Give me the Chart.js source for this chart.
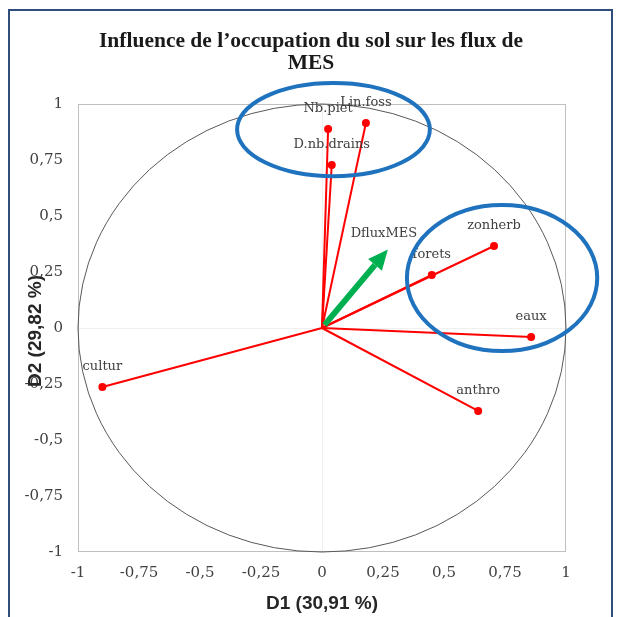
<!DOCTYPE html>
<html>
<head>
<meta charset="utf-8">
<script src="https://cdn.jsdelivr.net/npm/chart.js@4"></script>
<style>
  body { margin: 0; background: #fff; }
  #wrap { width: 617px; height: 617px; position: relative; }
</style>
</head>
<body>
<div id="wrap"><canvas id="pca"></canvas></div>
<script>
// active variables (correlation circle, D1 x D2)
const varNames = ['Nb.piet', 'Lin.foss', 'D.nb.drains', 'zonherb', 'forets', 'eaux', 'anthro', 'cultur'];
const d1Values = [0.025, 0.18, 0.04, 0.705, 0.45, 0.857, 0.64, -0.90];
const d2Values = [0.888, 0.915, 0.728, 0.366, 0.237, -0.04, -0.37, -0.263];

// supplementary variable (green arrow)
const supName = 'DfluxMES';
const supD1 = [0.27];
const supD2 = [0.35];

const tickValues = [-1, -0.75, -0.5, -0.25, 0, 0.25, 0.5, 0.75, 1];
const titleLines = ['Influence de l\u2019occupation du sol sur les flux de', 'MES'];
const xTitle = 'D1 (30,91 %)';
const yTitle = 'D2 (29,82 %)';

const fmt = v => String(v).replace('.', ',');

// one line dataset per variable: origin -> point
const datasets = varNames.map((name, i) => ({
  label: name,
  data: [{ x: 0, y: 0 }, { x: d1Values[i], y: d2Values[i] }],
  showLine: true,
  borderColor: '#ff0000',
  borderWidth: 2,
  pointRadius: [0, 4],
  pointBackgroundColor: '#ff0000',
  pointBorderWidth: 0
}));

const decor = {
  id: 'decor',
  beforeDraw(chart) {
    const ctx = chart.ctx;
    ctx.save();
    ctx.fillStyle = '#fff';
    ctx.fillRect(0, 0, chart.width, chart.height);
    // outer frame
    ctx.strokeStyle = '#2f4e7c';
    ctx.lineWidth = 2;
    ctx.strokeRect(9, 10, 603, 620);
    // title
    ctx.fillStyle = '#1a1a1a';
    ctx.font = 'bold 21.5px "Liberation Serif"';
    ctx.textAlign = 'center';
    ctx.textBaseline = 'middle';
    ctx.fillText(titleLines[0], 311, 41);
    ctx.fillText(titleLines[1], 311, 63);
    ctx.restore();
  },
  beforeDatasetsDraw(chart) {
    const { ctx, chartArea: a, scales: { x, y } } = chart;
    ctx.save();
    // plot border
    ctx.strokeStyle = '#bfbfbf';
    ctx.lineWidth = 1;
    ctx.strokeRect(a.left + 0.5, a.top + 0.5, a.right - a.left - 1, a.bottom - a.top - 1);
    // unit circle
    const cx = x.getPixelForValue(0), cy = y.getPixelForValue(0);
    ctx.strokeStyle = '#595959';
    ctx.beginPath();
    ctx.ellipse(cx, cy, x.getPixelForValue(1) - cx, cy - y.getPixelForValue(1), 0, 0, Math.PI * 2);
    ctx.stroke();
    ctx.restore();
  },
  afterDatasetsDraw(chart) {
    const { ctx, chartArea: a, scales: { x, y } } = chart;
    ctx.save();
    // supplementary arrow
    const x0 = x.getPixelForValue(0), y0 = y.getPixelForValue(0);
    const x1 = x.getPixelForValue(supD1[0]), y1 = y.getPixelForValue(supD2[0]);
    const ang = Math.atan2(y1 - y0, x1 - x0);
    const head = 20, half = 9;
    const bx = x1 - head * Math.cos(ang), by = y1 - head * Math.sin(ang);
    ctx.strokeStyle = '#00b050';
    ctx.fillStyle = '#00b050';
    ctx.lineWidth = 6;
    ctx.beginPath();
    ctx.moveTo(x0 + 4 * Math.cos(ang), y0 + 4 * Math.sin(ang));
    ctx.lineTo(bx, by);
    ctx.stroke();
    ctx.beginPath();
    ctx.moveTo(x1, y1);
    ctx.lineTo(bx + half * Math.sin(ang), by - half * Math.cos(ang));
    ctx.lineTo(bx - half * Math.sin(ang), by + half * Math.cos(ang));
    ctx.closePath();
    ctx.fill();

    // point labels
    ctx.fillStyle = '#404040';
    ctx.font = '13px "DejaVu Serif"';
    ctx.textAlign = 'center';
    ctx.textBaseline = 'middle';
    varNames.forEach((n, i) => {
      ctx.fillText(n, x.getPixelForValue(d1Values[i]), y.getPixelForValue(d2Values[i]) - 20);
    });
    ctx.fillText(supName, x1 - 4, y1 - 16);

    // blue highlight ellipses (annotations, in data units)
    ctx.strokeStyle = '#1f72bd';
    ctx.lineWidth = 4;
    const ell = (cxv, cyv, rxv, ryv) => {
      const px = x.getPixelForValue(cxv), py = y.getPixelForValue(cyv);
      ctx.beginPath();
      ctx.ellipse(px, py, x.getPixelForValue(cxv + rxv) - px, py - y.getPixelForValue(cyv + ryv), 0, 0, Math.PI * 2);
      ctx.stroke();
    };
    ell(0.047, 0.886, 0.395, 0.208);
    ell(0.738, 0.223, 0.39, 0.326);

    // axis titles
    ctx.fillStyle = '#262626';
    ctx.font = 'bold 19px "Liberation Sans"';
    ctx.fillText(xTitle, (a.left + a.right) / 2, 604);
    ctx.translate(36, 331);
    ctx.rotate(-Math.PI / 2);
    ctx.fillText(yTitle, 0, 0);
    ctx.restore();
  }
};

const tickFont = { family: 'DejaVu Serif', size: 15 };

new Chart(document.getElementById('pca'), {
  type: 'scatter',
  data: { datasets },
  options: {
    responsive: true,
    maintainAspectRatio: false,
    animation: false,
    layout: { padding: { left: 0, right: 51, top: 104, bottom: 0 } },
    plugins: { legend: { display: false }, tooltip: { enabled: false }, title: { display: false } },
    scales: {
      x: {
        min: -1, max: 1,
        afterBuildTicks: s => { s.ticks = tickValues.map(v => ({ value: v })); },
        afterFit: s => { s.height = 65; },
        ticks: { font: tickFont, color: '#404040', padding: 12, callback: fmt, maxRotation: 0 },
        grid: { drawTicks: false, color: c => c.tick && c.tick.value === 0 ? '#f0f0f0' : 'rgba(0,0,0,0)' },
        border: { display: false }
      },
      y: {
        min: -1, max: 1,
        afterBuildTicks: s => { s.ticks = tickValues.map(v => ({ value: v })); },
        afterFit: s => { s.width = 78; },
        ticks: { font: tickFont, color: '#404040', padding: 15, callback: fmt },
        grid: { drawTicks: false, color: c => c.tick && c.tick.value === 0 ? '#f0f0f0' : 'rgba(0,0,0,0)' },
        border: { display: false }
      }
    }
  },
  plugins: [decor]
});
</script>
</body>
</html>
